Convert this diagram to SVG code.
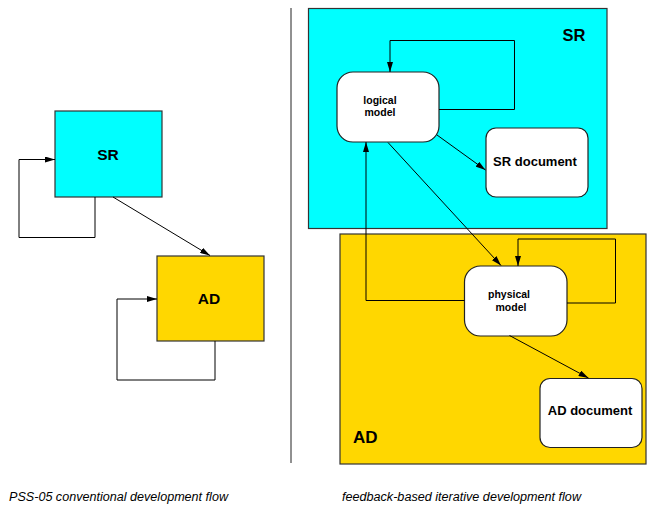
<svg xmlns="http://www.w3.org/2000/svg" width="647" height="506" viewBox="0 0 647 506">
  <defs>
    <marker id="arrow" viewBox="0 0 10 6" refX="10" refY="3" markerWidth="10" markerHeight="6" markerUnits="userSpaceOnUse" orient="auto">
      <path d="M0,0 L10,3 L0,6 Z" fill="#000"/>
    </marker>
    <style>
      .sr { fill: #00ffff; stroke: #333; stroke-width: 1.2; }
      .ad { fill: #ffd700; stroke: #333; stroke-width: 1.2; }
      .doc { fill: #fff; stroke: #222; stroke-width: 1.2; }
      .edge { fill: none; stroke: #000; stroke-width: 1; }
      .lbl { font-family: "Liberation Sans", Arial, sans-serif; font-weight: bold; fill: #000; }
      .cap { font-family: "Liberation Sans", Arial, sans-serif; font-style: italic; font-size: 12.5px; fill: #000; }
    </style>
  </defs>
  <rect width="647" height="506" fill="#fff"/>

  <!-- left: conventional flow -->
  <g id="sr-phase">
    <rect class="sr" x="55" y="111" width="107" height="86"/>
    <text class="lbl" x="108" y="159.5" font-size="15.5" text-anchor="middle">SR</text>
  </g>
  <g id="ad-phase">
    <rect class="ad" x="157" y="256" width="107" height="85"/>
    <text class="lbl" x="209" y="304" font-size="15.5" text-anchor="middle">AD</text>
  </g>

  <!-- divider -->
  <line x1="291" y1="8" x2="291" y2="463" stroke="#222" stroke-width="1"/>

  <!-- right: iterative flow, phase containers -->
  <g id="sr-area">
    <rect class="sr" x="308.5" y="8.5" width="298.5" height="220"/>
    <text class="lbl" x="574" y="41" font-size="16.5" text-anchor="middle">SR</text>
  </g>
  <g id="ad-area">
    <rect class="ad" x="340" y="234" width="306" height="230"/>
    <text class="lbl" x="353" y="443" font-size="17">AD</text>
  </g>

  <g id="logical-model">
    <rect class="doc" x="337" y="72" width="102" height="70" rx="16" ry="16"/>
    <text class="lbl" x="380" y="104" font-size="10.5" text-anchor="middle">logical</text>
    <text class="lbl" x="380" y="116" font-size="10.5" text-anchor="middle">model</text>
  </g>
  <g id="sr-document">
    <rect class="doc" x="486" y="128" width="102" height="69" rx="10" ry="10"/>
    <text class="lbl" x="535" y="166" font-size="13" text-anchor="middle">SR document</text>
  </g>
  <g id="physical-model">
    <rect class="doc" x="464.5" y="266" width="102.5" height="70" rx="16" ry="16"/>
    <text class="lbl" x="509" y="298" font-size="10.5" text-anchor="middle">physical</text>
    <text class="lbl" x="511" y="311" font-size="10.5" text-anchor="middle">model</text>
  </g>
  <g id="ad-document">
    <rect class="doc" x="540" y="378.5" width="102" height="69" rx="10" ry="10"/>
    <text class="lbl" x="590" y="415" font-size="13" text-anchor="middle">AD document</text>
  </g>

  <g id="connectors">
    <!-- conventional flow -->
    <polyline class="edge" points="95,197 95,237.5 19,237.5 19,159.5 55,159.5" marker-end="url(#arrow)"/>
    <line class="edge" x1="113" y1="197" x2="210" y2="255.5" marker-end="url(#arrow)"/>
    <polyline class="edge" points="215,341 215,380 117,380 117,299 157,299" marker-end="url(#arrow)"/>

    <!-- iterative flow -->
    <polyline class="edge" points="439,109.5 514.5,109.5 514.5,40.5 390,40.5 390,72" marker-end="url(#arrow)"/>
    <line class="edge" x1="437" y1="135" x2="485.5" y2="170" marker-end="url(#arrow)"/>
    <line class="edge" x1="388" y1="142.5" x2="501" y2="265.5" marker-end="url(#arrow)"/>
    <polyline class="edge" points="464.5,300.5 366,300.5 366,142" marker-end="url(#arrow)"/>
    <polyline class="edge" points="567,303 615.5,303 615.5,239 518,239 518,266" marker-end="url(#arrow)"/>
    <line class="edge" x1="509.5" y1="335.5" x2="588.5" y2="378" marker-end="url(#arrow)"/>
  </g>

  <text class="cap" x="9" y="501" textLength="219" lengthAdjust="spacingAndGlyphs">PSS-05 conventional development flow</text>
  <text class="cap" x="342" y="501" textLength="239" lengthAdjust="spacingAndGlyphs">feedback-based iterative development flow</text>
</svg>
